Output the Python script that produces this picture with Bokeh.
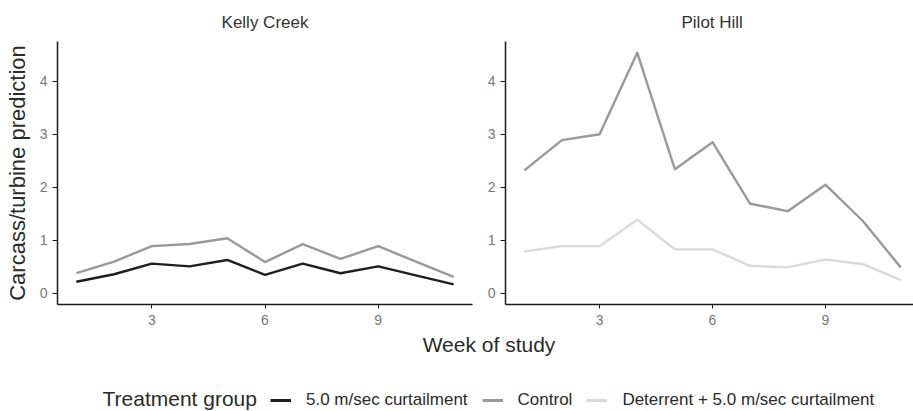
from bokeh.plotting import figure
from bokeh.layouts import column, row
from bokeh.models import Range1d, FixedTicker, Label, Legend, LegendItem, Title
from bokeh.embed import file_html
from bokeh.resources import INLINE

# ---------------- data ----------------
weeks = list(range(1, 12))
kelly_curtail = [0.22, 0.36, 0.56, 0.51, 0.63, 0.35, 0.56, 0.38, 0.51, 0.34, 0.17]
kelly_control = [0.38, 0.60, 0.89, 0.93, 1.04, 0.59, 0.93, 0.65, 0.89, 0.60, 0.31]
pilot_control = [2.32, 2.89, 3.00, 4.54, 2.34, 2.85, 1.69, 1.55, 2.05, 1.36, 0.49]
pilot_deterrent = [0.79, 0.89, 0.89, 1.39, 0.83, 0.83, 0.52, 0.49, 0.64, 0.55, 0.25]

panel_titles = ["Kelly Creek", "Pilot Hill"]
group_names = ["5.0 m/sec curtailment", "Control", "Deterrent + 5.0 m/sec curtailment"]
group_colors = ["#1e1e1e", "#999999", "#d9d9d9"]
x_ticks = [3, 6, 9]
y_ticks = [0, 1, 2, 3, 4]
x_label = "Week of study"
y_label = "Carcass/turbine prediction"
legend_title = "Treatment group"

FONT = "Liberation Sans"
AX_COLOR = "#1a1a1a"
TICK_LABEL_COLOR = "#777777"
TEXT_COLOR = "#2a2a2a"


def make_panel(width, border_left, border_right, x_end, title, series,
               title_align="center", title_offset=0, ylab=None):
    p = figure(width=width, height=331, output_backend="svg", toolbar_location=None,
               x_range=Range1d(0.5, x_end), y_range=Range1d(-0.21, 4.75),
               min_border_left=border_left, min_border_right=border_right,
               min_border_top=39, min_border_bottom=27)
    p.title = Title(text=title, align=title_align, offset=title_offset,
                    vertical_align="bottom", standoff=20, text_font=FONT,
                    text_font_size="17px", text_font_style="normal",
                    text_color="#333333")
    p.outline_line_color = None
    p.grid.visible = False
    for ys, color in series:
        p.line(weeks, ys, line_color=color, line_width=2.4, line_join="round")
    p.xaxis.ticker = FixedTicker(ticks=x_ticks)
    p.yaxis.ticker = FixedTicker(ticks=y_ticks)
    for ax in p.axis:
        ax.axis_line_color = AX_COLOR
        ax.axis_line_width = 1.5
        ax.major_tick_line_color = AX_COLOR
        ax.major_tick_line_width = 1
        ax.major_tick_out = 5
        ax.major_tick_in = 0
        ax.minor_tick_line_color = None
        ax.major_label_text_font = FONT
        ax.major_label_text_font_size = "14px"
        ax.major_label_text_color = TICK_LABEL_COLOR
        ax.major_label_standoff = 5
    p.xaxis.major_tick_out = 4
    p.xaxis.major_label_standoff = 6
    if ylab:
        p.yaxis.axis_label = ylab
        p.yaxis.axis_label_text_font = FONT
        p.yaxis.axis_label_text_font_size = "22px"
        p.yaxis.axis_label_text_font_style = "normal"
        p.yaxis.axis_label_text_color = TEXT_COLOR
        p.yaxis.axis_label_standoff = 7
    return p


p1 = make_panel(484, 57, 12, 11.5, panel_titles[0],
                [(kelly_curtail, group_colors[0]), (kelly_control, group_colors[1])],
                ylab=y_label)
p2 = make_panel(429, 19, 0, 11.34, panel_titles[1],
                [(pilot_control, group_colors[1]), (pilot_deterrent, group_colors[2])],
                title_align="left", title_offset=176)

# bottom strip: shared x label and legend
p3 = figure(width=913, height=80, output_backend="svg", toolbar_location=None,
            x_range=Range1d(0, 913), y_range=Range1d(0, 80),
            x_axis_location=None, y_axis_location=None,
            min_border=0, min_border_left=0, min_border_right=0,
            min_border_top=0, min_border_bottom=0)
p3.outline_line_color = None
p3.grid.visible = False

p3.add_layout(Label(x=488.5, y=67, text=x_label, text_align="center",
                    text_baseline="middle", text_font=FONT,
                    text_font_size="21px", text_color=TEXT_COLOR))
p3.add_layout(Label(x=102, y=13, text=legend_title, text_align="left",
                    text_baseline="middle", text_font=FONT,
                    text_font_size="21px", text_color=TEXT_COLOR))

nan = float("nan")
items = []
for name, color in zip(group_names, group_colors):
    r = p3.line(x=[nan, nan], y=[nan, nan], line_color=color, line_width=3)
    items.append(LegendItem(label=name, renderers=[r]))

legend = Legend(items=items, orientation="horizontal", location=(270, 1),
                glyph_width=21, glyph_height=16, label_height=16, label_standoff=15,
                spacing=14, padding=0, margin=0, border_line_color=None,
                background_fill_alpha=0, label_text_font=FONT,
                label_text_font_size="17px", label_text_color=TEXT_COLOR)
p3.add_layout(legend)

layout = column(row(p1, p2), p3)

open("out.html", "w").write(file_html(layout, INLINE))
